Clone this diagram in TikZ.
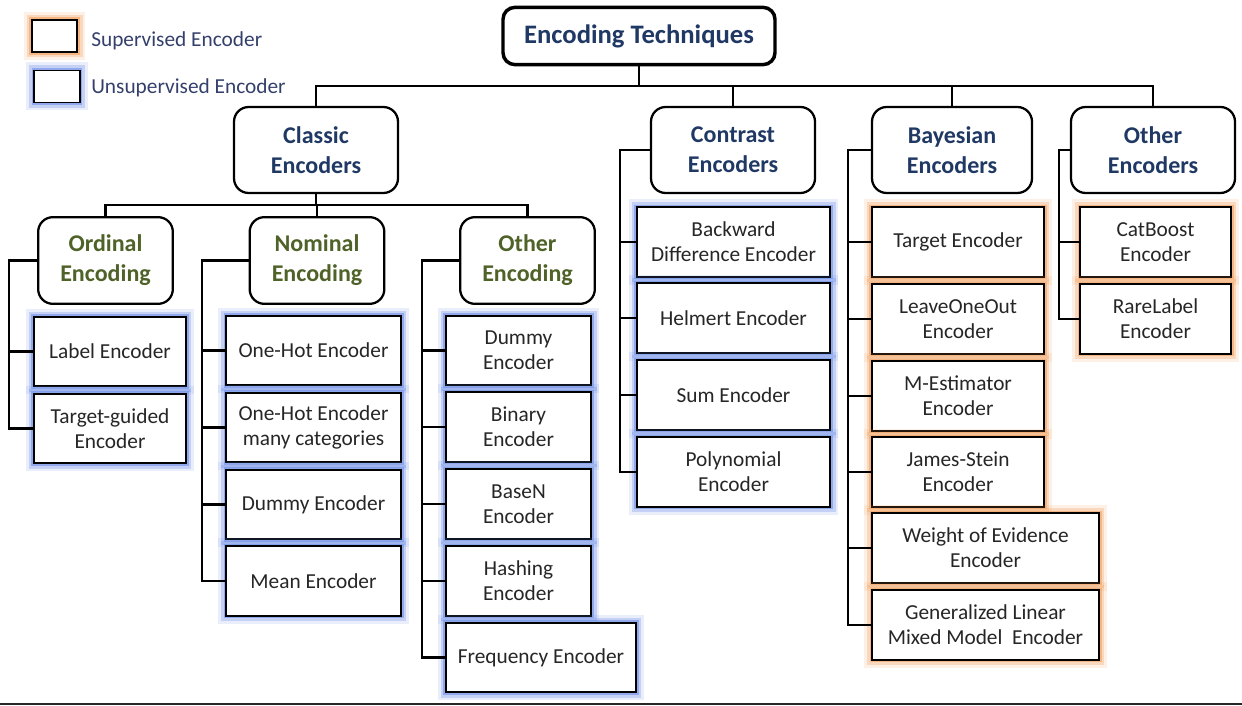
\documentclass[tikz,border=0pt]{standalone}
\usepackage{fontspec}
\setmainfont{Carlito}
\definecolor{navy}{HTML}{1F3864}
\definecolor{olive}{HTML}{4F6228}
\definecolor{legtxt}{HTML}{34406B}
\definecolor{leaftxt}{HTML}{262626}
\definecolor{glowb}{HTML}{6F8FE6}
\definecolor{glowo}{HTML}{F0A060}
\tikzset{
	glowblue/.style={preaction={draw=glowb, line width=12pt, opacity=0.15},
		preaction={draw=glowb, line width=8pt, opacity=0.3},
		preaction={draw=glowb, line width=4pt, opacity=0.6}},
	gloworange/.style={preaction={draw=glowo, line width=12pt, opacity=0.15},
		preaction={draw=glowo, line width=8pt, opacity=0.3},
		preaction={draw=glowo, line width=4pt, opacity=0.6}},
	rootbox/.style={draw, line width=2.6pt, rounded corners=9pt, fill=white, align=center,
		minimum width=204pt, minimum height=43pt, text=navy, font=\fontsize{20}{24}\selectfont\bfseries},
	groupbox/.style={draw, line width=1.7pt, rounded corners=11pt, fill=white, align=center,
		minimum width=123pt, minimum height=64.5pt, text=navy, font=\fontsize{18}{22.5}\selectfont\bfseries},
	subbox/.style={groupbox, minimum width=101pt, minimum height=65pt, text=olive},
	leaf/.style={draw, line width=1.4pt, fill=white, align=center, inner sep=0pt,
		minimum height=52pt, text=leaftxt, font=\fontsize{16}{18.8}\selectfont},
	unsup/.style={leaf, glowblue},
	sup/.style={leaf, gloworange},
	link/.style={line width=1.6pt},
	legtext/.style={anchor=west, inner sep=0pt, text=legtxt, font=\fontsize{16}{19}\selectfont}
}
\begin{document}
\begin{tikzpicture}[x=0.75pt, y=-0.75pt]
	\useasboundingbox (0,0) rectangle (1242,706);
	% legend
	\node[sup, minimum width=34pt, minimum height=24pt] (legsup) at (54.5,36) {};
	\node[unsup, minimum width=34pt, minimum height=24pt] (legunsup) at (57,86.5) {};
	\node[legtext] (legsuptxt) at (91,41) {Supervised Encoder};
	\node[legtext] (legunsuptxt) at (91,88) {Unsupervised Encoder};
	% top levels
	\node[rootbox] (root) at (639,36) {Encoding Techniques};
	\node[groupbox] (classic) at (316,150) {Classic\\Encoders};
	\node[groupbox] (contrast) at (733,150) {Contrast\\Encoders};
	\node[groupbox, minimum width=120pt] (bayes) at (952,150) {Bayesian\\Encoders};
	\node[groupbox] (otherenc) at (1153,150) {Other\\Encoders};
	\node[subbox] (ordinal) at (105.5,260.5) {Ordinal\\Encoding};
	\node[subbox] (nominal) at (317,260.5) {Nominal\\Encoding};
	\node[subbox] (othercod) at (527.5,260.5) {Other\\Encoding};
	\coordinate (rootbus) at (639,86);
	\coordinate (clsbus) at (316,205);
	\draw[link] (root.south) -- (rootbus);
	\draw[link] (classic.north) |- (rootbus) -| (otherenc.north);
	\draw[link] (contrast.north) -- (contrast.north |- rootbus);
	\draw[link] (bayes.north) -- (bayes.north |- rootbus);
	\draw[link] (classic.south) -- (clsbus);
	\draw[link] (ordinal.north) |- (clsbus) -| (othercod.north);
	\draw[link] (nominal.north) -- (nominal.north |- clsbus);
	% ordinal
	\node[unsup, minimum width=114pt] (lab) at (110,351.5) {Label Encoder};
	\node[unsup, minimum width=114pt] (tgd) at (110,428.5) {Target-guided\\Encoder};
	\coordinate (ordspine) at (9,260.5);
	\draw[link] (ordinal.west) -- (ordspine) |- (tgd.west);
	\draw[link] (ordspine) |- (lab.west);
	% nominal
	\node[unsup, minimum width=131pt] (ohe) at (313.5,350.5) {One-Hot Encoder};
	\node[unsup, minimum width=131pt] (ohemany) at (313.5,427.5) {One-Hot Encoder\\many categories};
	\node[unsup, minimum width=131pt] (dumnom) at (313.5,504.5) {Dummy Encoder};
	\node[unsup, minimum width=131pt] (mean) at (313.5,581) {Mean Encoder};
	\coordinate (nomspine) at (202,260.5);
	\draw[link] (nominal.west) -- (nomspine) |- (mean.west);
	\foreach \n in {ohe,ohemany,dumnom}
		\draw[link] (nomspine) |- (\n.west);
	% other encoding
	\node[unsup, minimum width=109pt] (dumoth) at (518.5,350.5) {Dummy\\Encoder};
	\node[unsup, minimum width=109pt] (binary) at (518.5,427) {Binary\\Encoder};
	\node[unsup, minimum width=109pt] (basen) at (518.5,504) {BaseN\\Encoder};
	\node[unsup, minimum width=109pt] (hashing) at (518.5,581) {Hashing\\Encoder};
	\node[unsup, minimum width=142.5pt] (freq) at (541,657.5) {Frequency Encoder};
	\coordinate (othspine) at (422,260.5);
	\draw[link] (othercod.west) -- (othspine) |- (freq.west);
	\foreach \n in {dumoth,binary,basen,hashing}
		\draw[link] (othspine) |- (\n.west);
	% contrast
	\node[unsup, minimum width=145pt] (backward) at (733.5,242) {Backward\\Difference Encoder};
	\node[unsup, minimum width=145pt] (helmert) at (733.5,318) {Helmert Encoder};
	\node[unsup, minimum width=145pt] (sum) at (733.5,395) {Sum Encoder};
	\node[unsup, minimum width=145pt] (poly) at (733.5,472) {Polynomial\\Encoder};
	\coordinate (conspine) at (620,150);
	\draw[link] (contrast.west) -- (conspine) |- (poly.west);
	\foreach \n in {backward,helmert,sum}
		\draw[link] (conspine) |- (\n.west);
	% bayesian
	\node[sup, minimum width=129pt] (target) at (958,242) {Target Encoder};
	\node[sup, minimum width=129pt] (loo) at (958,319) {LeaveOneOut\\Encoder};
	\node[sup, minimum width=129pt] (mest) at (958,396) {M-Estimator\\Encoder};
	\node[sup, minimum width=129pt] (james) at (958,472) {James-Stein\\Encoder};
	\node[sup, minimum width=170pt] (woe) at (985.5,548) {Weight of Evidence\\Encoder};
	\node[sup, minimum width=170pt] (glmm) at (985.5,625) {Generalized Linear\\Mixed Model\ \ Encoder};
	\coordinate (bayspine) at (848,150);
	\draw[link] (bayes.west) -- (bayspine) |- (glmm.west);
	\foreach \n in {target,loo,mest,james,woe}
		\draw[link] (bayspine) |- (\n.west);
	% other encoders
	\node[sup, minimum width=113pt] (catboost) at (1155.5,242) {CatBoost\\Encoder};
	\node[sup, minimum width=113pt] (rare) at (1155.5,319) {RareLabel\\Encoder};
	\coordinate (oenspine) at (1059,150);
	\draw[link] (otherenc.west) -- (oenspine) |- (rare.west);
	\draw[link] (oenspine) |- (catboost.west);
	\draw[line width=1.4pt, black!85] (0,704) -- (1242,704);
\end{tikzpicture}
\end{document}
